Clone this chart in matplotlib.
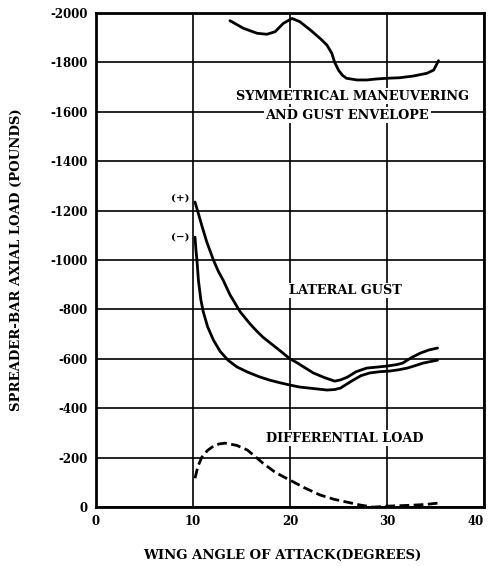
import matplotlib
matplotlib.use('Agg')
from matplotlib import pyplot as plt

# symmetrical maneuvering and gust envelope
env_x = [13.8, 15.2, 16.6, 17.6, 18.45, 19.3, 20.2, 21.0, 22.1, 23.1, 23.8, 24.3,
         24.6, 25.0, 25.4, 25.8, 26.9, 27.9, 28.9, 30.0, 31.3, 32.7, 34.1, 34.8, 35.3]
env_y = [-1969, -1938, -1918, -1914, -1924, -1958, -1978, -1965, -1931, -1897, -1870, -1837,
         -1800, -1768, -1748, -1736, -1729, -1729, -1733, -1736, -1738, -1745, -1756, -1769, -1807]

# lateral gust (+)
plus_x = [10.2, 10.5, 10.9, 11.4, 12.1, 12.6, 13.1, 13.8, 14.85, 15.8, 16.5, 17.2,
          18.1, 19.0, 20.0, 20.7, 21.5, 22.4, 23.5, 24.6, 25.2, 25.9, 26.8, 27.9,
          29.0, 30.0, 31.0, 31.6, 32.5, 33.4, 34.3, 35.2]
plus_y = [-1235, -1195, -1140, -1075, -1000, -955, -919, -860, -791, -745, -715, -688,
          -660, -632, -600, -585, -565, -543, -525, -510, -515, -526, -548, -563,
          -567, -571, -577, -583, -605, -623, -636, -644]

# lateral gust (-)
minus_x = [10.2, 10.3, 10.4, 10.55, 10.8, 11.05, 11.5, 12.1, 12.8, 13.6, 14.5, 15.6,
           16.8, 17.9, 19.0, 20.0, 21.0, 22.4, 23.8, 24.6, 25.2, 25.8, 26.5, 27.3,
           28.2, 29.2, 30.3, 31.2, 32.1, 33.0, 33.7, 35.2]
minus_y = [-1093, -1040, -1000, -919, -840, -791, -730, -676, -630, -595, -568, -547,
           -528, -514, -503, -494, -486, -480, -474, -476, -482, -497, -514, -532,
           -543, -548, -551, -556, -563, -574, -583, -595]

# differential load
diff_x = [10.2, 10.5, 10.9, 11.5, 12.1, 12.7, 13.3, 14.5, 15.6, 16.4, 17.2, 18.5,
          20.0, 21.5, 23.1, 24.5, 25.9, 27.3, 28.6, 30.0, 31.4, 32.7, 34.0, 35.2]
diff_y = [-117, -165, -202, -230, -247, -256, -259, -250, -231, -205, -178, -140,
          -109, -78, -49, -32, -20, -8, 0, -4, -6, -8, -11, -16]

x_ticks = [0, 10, 20, 30, 40]
y_ticks = [0, -200, -400, -600, -800, -1000, -1200, -1400, -1600, -1800, -2000]

plt.rcParams['font.family'] = 'DejaVu Serif'
plt.rcParams['font.weight'] = 'bold'

fig = plt.figure(figsize=(4.9, 5.66), dpi=100)
ax = fig.add_axes([0.196, 0.104, 0.792, 0.873])

ax.plot(env_x, env_y, color='black', lw=2.0, solid_capstyle='round', solid_joinstyle='round')
ax.plot(plus_x, plus_y, color='black', lw=2.0, solid_capstyle='round', solid_joinstyle='round')
ax.plot(minus_x, minus_y, color='black', lw=2.0, solid_capstyle='round', solid_joinstyle='round')
ax.plot(diff_x, diff_y, color='black', lw=2.0, linestyle=(0, (3.5, 1.6)))

ax.set_xlim(0, 40)
ax.set_ylim(0, -2000)
ax.set_xticks(x_ticks)
xlabels = ax.set_xticklabels([str(v) for v in x_ticks])
xlabels[-1].set_ha('right')
ax.set_yticks(y_ticks)
ax.set_yticklabels([str(v) for v in y_ticks])
ax.tick_params(length=0, labelsize=8.5, pad=6)
ax.grid(True, color='black', lw=1.2)
ax.set_axisbelow(True)
for s in ax.spines.values():
    s.set_linewidth(2.0)

box = dict(facecolor='white', edgecolor='none', pad=1)
kw = dict(ha='center', va='center', fontsize=9.3, fontweight='bold')
ax.text(26.4, -1664, 'SYMMETRICAL MANEUVERING', bbox=box, **kw)
ax.text(25.9, -1587, 'AND GUST ENVELOPE', bbox=box, **kw)
ax.text(25.7, -877, 'LATERAL GUST', bbox=box, **kw)
ax.text(25.6, -279, 'DIFFERENTIAL LOAD', bbox=box, **kw)
ax.text(8.7, -1251, '(+)', ha='center', va='center', fontsize=7.5)
ax.text(8.7, -1093, '(\u2212)', ha='center', va='center', fontsize=7.5)

ax.set_xlabel('WING ANGLE OF ATTACK(DEGREES)', fontsize=9.5, fontweight='bold',
              va='center', ha='center')
ax.set_ylabel('SPREADER-BAR AXIAL LOAD (POUNDS)', fontsize=9.5, fontweight='bold',
              va='center', ha='center')
ax.xaxis.set_label_coords(0.48, -0.097)
ax.yaxis.set_label_coords(-0.204, 0.5)

fig.savefig('out.png', dpi=100)
